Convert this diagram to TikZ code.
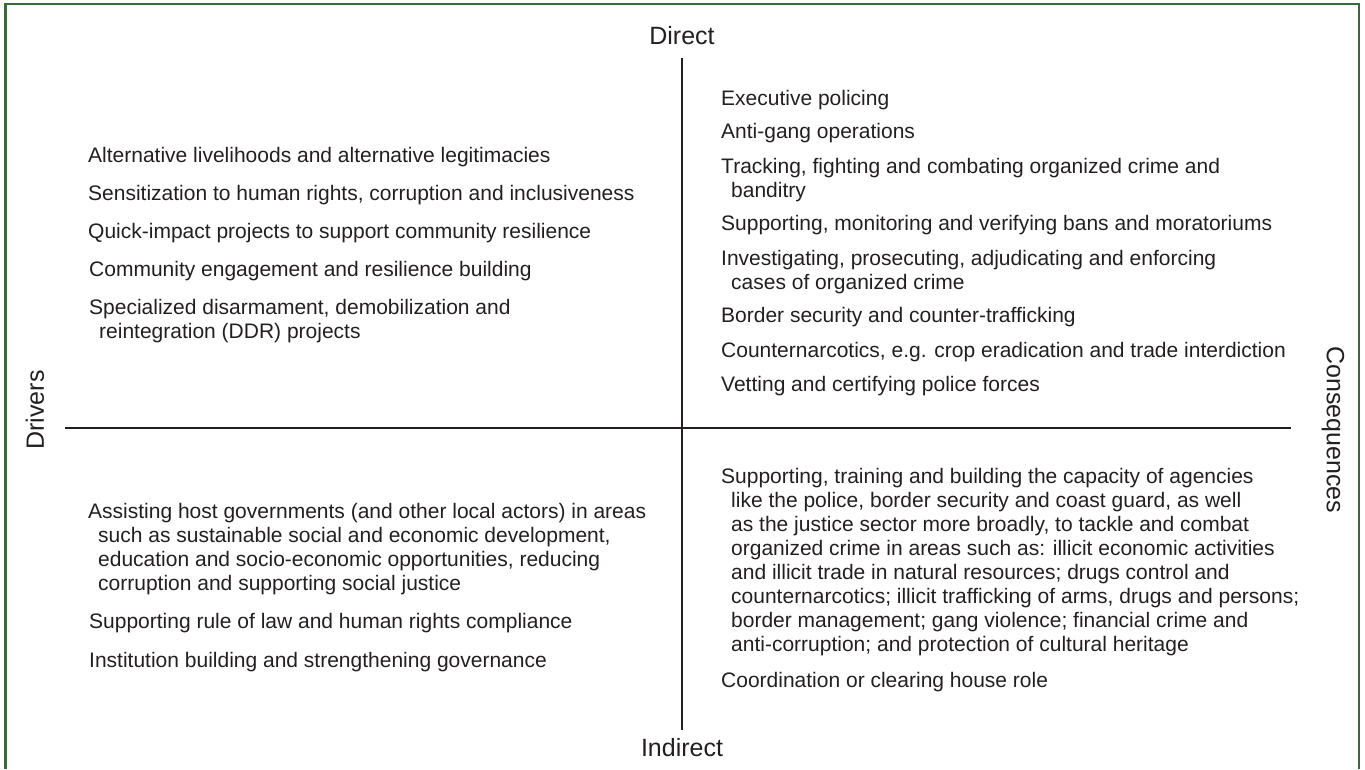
\documentclass[tikz,border=0pt]{standalone}
\usepackage{fontspec}
\setmainfont{Liberation Sans}
\definecolor{framegreen}{RGB}{60,105,60}
\definecolor{ink}{RGB}{35,31,32}
\newcommand{\itemfont}{\fontsize{21}{24}\selectfont}
\newcommand{\axisfont}{\fontsize{25}{28}\selectfont}
\newcommand{\ind}{\hspace*{10pt}}
\begin{document}
\begin{tikzpicture}[x=1pt,y=-1pt,
  itembox/.style={anchor=north west, inner sep=0pt, align=left, font=\itemfont, text=ink},
  axislabel/.style={inner sep=0pt, font=\axisfont, text=ink},
  axisline/.style={draw=ink, line width=2.5pt}]
\useasboundingbox (0,0) rectangle (1365,769);
% frame (open at the bottom)
\draw[framegreen, line width=2.5pt] (5.5,769) -- (5.5,4) -- (1359,4) -- (1359,769);
% axes
\coordinate (vtop) at (682,58);
\coordinate (vbot) at (682,730);
\coordinate (hleft) at (65,428);
\coordinate (hright) at (1291,428);
\draw[axisline] (vtop) -- (vbot);
\draw[axisline] (hleft) -- (hright);
% axis labels
\node[axislabel] (direct) at (682,36) {Direct};
\node[axislabel] (indirect) at (682,748) {Indirect};
\node[axislabel, rotate=90] (drivers) at (35,410) {Drivers};
\node[axislabel, rotate=-90] (consequences) at (1333,430) {Consequences};
% top-left
\node[itembox] (tl1) at (88,145.7) {\strut Alternative livelihoods and alternative legitimacies};
\node[itembox] (tl2) at (88,183.7) {\strut Sensitization to human rights, corruption and inclusiveness};
\node[itembox] (tl3) at (88,221.7) {\strut Quick-impact projects to support community resilience};
\node[itembox] (tl4) at (89,259.7) {\strut Community engagement and resilience building};
\node[itembox] (tl5) at (89,297.7) {\strut Specialized disarmament, demobilization and\\\ind reintegration (DDR) projects};
% top-right
\node[itembox] (tr1) at (721,88.7) {\strut Executive policing};
\node[itembox] (tr2) at (721,121.7) {\strut Anti-gang operations};
\node[itembox] (tr3) at (721,156.7) {\strut Tracking, fighting and combating organized crime and\\\ind banditry};
\node[itembox] (tr4) at (721,213.7) {\strut Supporting, monitoring and verifying bans and moratoriums};
\node[itembox] (tr5) at (721,248.7) {\strut Investigating, prosecuting, adjudicating and enforcing\\\ind cases of organized crime};
\node[itembox] (tr6) at (721,305.7) {\strut Border security and counter-trafficking};
\node[itembox] (tr7) at (721,340.7) {\strut Counternarcotics, e.g. crop eradication and trade interdiction};
\node[itembox] (tr8) at (721,374.7) {\strut Vetting and certifying police forces};
% bottom-left
\node[itembox] (bl1) at (88,501.7) {\strut Assisting host governments (and other local actors) in areas\\\ind such as sustainable social and economic development,\\\ind education and socio-economic opportunities, reducing\\\ind corruption and supporting social justice};
\node[itembox] (bl2) at (89,611.7) {\strut Supporting rule of law and human rights compliance};
\node[itembox] (bl3) at (89,650.7) {\strut Institution building and strengthening governance};
% bottom-right
\node[itembox] (br1) at (721,466.7) {\strut Supporting, training and building the capacity of agencies\\\ind like the police, border security and coast guard, as well\\\ind as the justice sector more broadly, to tackle and combat\\\ind organized crime in areas such as: illicit economic activities\\\ind and illicit trade in natural resources; drugs control and\\\ind counternarcotics; illicit trafficking of arms, drugs and persons;\\\ind border management; gang violence; financial crime and\\\ind anti-corruption; and protection of cultural heritage};
\node[itembox] (br2) at (721,670.7) {\strut Coordination or clearing house role};
\end{tikzpicture}
\end{document}
